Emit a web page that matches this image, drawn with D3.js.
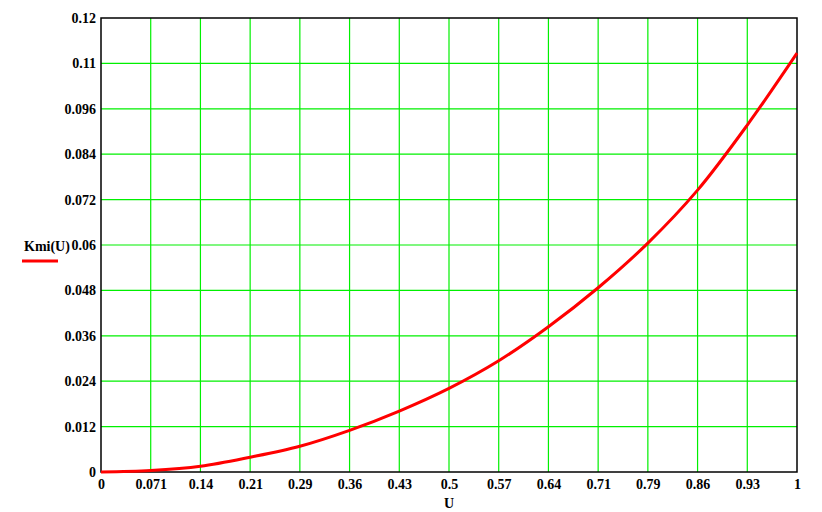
<!DOCTYPE html>
<html>
<head>
<meta charset="utf-8">
<script src="https://cdn.jsdelivr.net/npm/d3@7"></script>
<style>
  body { margin: 0; background: #fff; }
  svg text { font-family: 'Liberation Serif', 'Times New Roman', serif; font-weight: bold; fill: #000; }
</style>
</head>
<body>
<div id="chart"></div>
<script>
var uValues = [0, 1 / 14, 2 / 14, 3 / 14, 4 / 14, 5 / 14, 6 / 14, 7 / 14, 8 / 14, 9 / 14, 10 / 14, 11 / 14, 12 / 14, 13 / 14, 1];
var kmiValues = [0, 0.0004, 0.0015, 0.0039, 0.0068, 0.0110, 0.0161, 0.0221, 0.0294, 0.0384, 0.0487, 0.0605, 0.0745, 0.0917, 0.1107];
var xTickLabels = ['0', '0.071', '0.14', '0.21', '0.29', '0.36', '0.43', '0.5', '0.57', '0.64', '0.71', '0.79', '0.86', '0.93', '1'];
var yTickValues = [0, 0.012, 0.024, 0.036, 0.048, 0.06, 0.072, 0.084, 0.096, 0.108, 0.12];
var yTickLabels = ['0', '0.012', '0.024', '0.036', '0.048', '0.06', '0.072', '0.084', '0.096', '0.11', '0.12'];

var width = 822;
var height = 512;
var plot = { left: 101, top: 18, right: 797, bottom: 472 };

var svg = d3.select('#chart').append('svg')
  .attr('width', width)
  .attr('height', height);

var x = d3.scaleLinear().domain([0, 1]).range([plot.left, plot.right]);
var y = d3.scaleLinear().domain([0, 0.12]).range([plot.bottom, plot.top]);

var grid = svg.append('g');
grid.selectAll('line.vgrid')
  .data(uValues.slice(1, -1))
  .enter().append('line')
  .attr('class', 'vgrid')
  .attr('x1', function (d) { return x(d); })
  .attr('x2', function (d) { return x(d); })
  .attr('y1', plot.top)
  .attr('y2', plot.bottom)
  .attr('stroke', '#00f000')
  .attr('stroke-width', 1.2);
grid.selectAll('line.hgrid')
  .data(yTickValues.slice(1, -1))
  .enter().append('line')
  .attr('class', 'hgrid')
  .attr('x1', plot.left)
  .attr('x2', plot.right)
  .attr('y1', function (d) { return y(d); })
  .attr('y2', function (d) { return y(d); })
  .attr('stroke', '#00f000')
  .attr('stroke-width', 1.2);

var xAxis = d3.axisBottom(x)
  .tickValues(uValues)
  .tickSize(0)
  .tickPadding(7)
  .tickFormat(function (d, i) { return xTickLabels[i]; });
var gx = svg.append('g')
  .attr('transform', 'translate(0,' + plot.bottom + ')')
  .call(xAxis);
gx.select('.domain').remove();
gx.selectAll('text')
  .style('font-size', '14px')
  .style('font-family', "'Liberation Serif', serif")
  .style('font-weight', 'bold');

var yAxis = d3.axisLeft(y)
  .tickValues(yTickValues)
  .tickSize(0)
  .tickPadding(5)
  .tickFormat(function (d, i) { return yTickLabels[i]; });
var gy = svg.append('g')
  .attr('transform', 'translate(' + plot.left + ',0)')
  .call(yAxis);
gy.select('.domain').remove();
gy.selectAll('text')
  .style('font-size', '14px')
  .style('font-family', "'Liberation Serif', serif")
  .style('font-weight', 'bold');

svg.append('rect')
  .attr('x', plot.left)
  .attr('y', plot.top)
  .attr('width', plot.right - plot.left)
  .attr('height', plot.bottom - plot.top)
  .attr('fill', 'none')
  .attr('stroke', '#000')
  .attr('stroke-width', 1.5);

var line = d3.line()
  .x(function (d, i) { return x(uValues[i]); })
  .y(function (d) { return y(d); })
  .curve(d3.curveCatmullRom);

svg.append('path')
  .datum(kmiValues)
  .attr('d', line)
  .attr('fill', 'none')
  .attr('stroke', '#ff0000')
  .attr('stroke-width', 3);

svg.append('text')
  .attr('x', x(0.5))
  .attr('y', 508)
  .attr('text-anchor', 'middle')
  .style('font-size', '14px')
  .text('U');

svg.append('text')
  .attr('x', 24)
  .attr('y', 251)
  .style('font-size', '14px')
  .text('Kmi(U)');

svg.append('line')
  .attr('x1', 22)
  .attr('x2', 58)
  .attr('y1', 261)
  .attr('y2', 261)
  .attr('stroke', '#ff0000')
  .attr('stroke-width', 3);
</script>
</body>
</html>
